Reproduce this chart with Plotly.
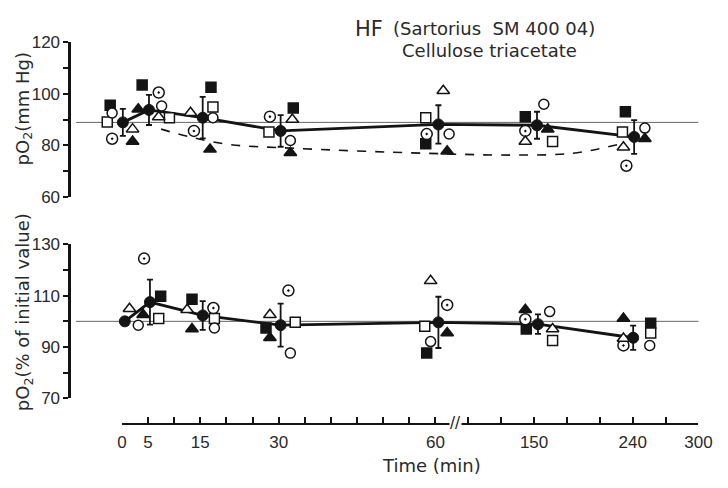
import plotly.graph_objects as go

# ---------------- data ----------------
times = [0, 5, 15, 30, 60, 150, 240]
axis_ticks = list(range(0, 61, 5)) + list(range(90, 301, 30))
labelled_ticks = [0, 5, 15, 30, 60, 150, 240, 300]

# upper panel: pO2 (mm Hg)
top_mean = [88.9, 93.7, 90.7, 85.6, 88.1, 87.8, 83.3]
top_err = [5.2, 5.8, 8.0, 6.1, 7.4, 5.2, 6.5]
top_filled_square = [95.5, 103.3, 102.4, 94.4, 80.7, 91.1, 93.0]
top_open_square = [89.0, 90.7, 94.8, 85.2, 90.7, 81.5, 85.2]
top_open_circle = [92.5, 95.2, 90.7, 81.9, 84.4, 95.9, 86.7]
top_dot_circle = [82.6, 100.4, 85.6, 91.1, 84.4, 85.6, 72.2]
top_open_triangle = [86.3, 91.0, 92.6, 90.0, 101.1, 81.5, 79.3]
top_filled_triangle = [81.5, 94.0, 78.5, 77.2, 77.8, 86.3, 82.6]
top_dashed_times = [7.5, 13, 20.5, 33, 58, 130, 185, 227]
top_dashed_values = [86.3, 83.3, 80.4, 78.9, 77.0, 76.3, 77.0, 80.4]
top_baseline = 88.9

# lower panel: pO2 (% of initial value)
bot_mean = [100.0, 107.5, 102.3, 98.5, 99.6, 98.9, 93.6]
bot_err = [0, 8.8, 5.6, 8.4, 10.0, 3.8, 4.7]
bot_filled_square = [None, 109.8, 108.6, 97.4, 87.6, 97.0, 99.3]
bot_open_square = [None, 101.1, 101.1, 99.6, 98.1, 92.5, 95.5]
bot_open_circle = [None, 98.5, 97.4, 87.6, 92.1, 103.8, 90.6]
bot_dot_circle = [None, 124.5, 105.2, 112.0, 106.4, 100.8, 90.6]
bot_open_triangle = [None, 104.9, 104.5, 102.6, 115.8, 97.0, 93.3]
bot_filled_triangle = [None, 102.6, 97.0, 93.6, 95.5, 104.5, 101.1]
bot_baseline = 100

# ---------------- styling (horizontal spreading of symbols, px) ----------------
top_off = {
    "filled_square": [-12, -6, 11, 15, -10, -9, -7.5],
    "open_square": [-15, 22, 13, -10, -10, 19, -10.5],
    "open_circle": [-10, 14, 13, 12, 14, 10, 12.5],
    "dot_circle": [-10, 11, -6.5, -9, -9, -9, -6.5],
    "open_triangle": [11, 11, -10, 14, 8, -9, -9.5],
    "filled_triangle": [11, -10, 10, 12, 12, 14, 12.5],
    "mean": [1, 1, 2.5, 2, 3, 3, 1.5],
}
bot_off = {
    "filled_square": [0, 13, -8.5, -13, -9, -8, 18.5],
    "open_square": [0, 11, 14.5, 17, -11, 19, 18.5],
    "open_circle": [0, -10, 14.5, 12, -5, 16, 17.5],
    "dot_circle": [0, -4, 13.5, 10, 12, -9, -9.5],
    "open_triangle": [0, -19, -13.5, -9, -5, 19, -9.5],
    "filled_triangle": [0, -5, -8.5, -9, 12, -9, -9.5],
    "mean": [3, 2, 2.5, 2, 3, 4, 0.5],
}

INK = "#141414"
TXT = "#2a2a2a"
styles = {
    "filled_square": ("square", INK, 10),
    "open_square": ("square", "white", 10),
    "open_circle": ("circle", "white", 10),
    "dot_circle": ("circle-dot", "white", 11),
    "open_triangle": ("triangle-up", "white", 11),
    "filled_triangle": ("triangle-up", INK, 11),
}

# broken time axis: linear 0-60 min, compressed 60-300 min
PX_PER_U = 5.367
RATIO = 0.2096
W, H = 728, 488


def u(t):
    return t if t <= 60 else 60 + (t - 60) * RATIO


def fx(p):
    return p / W


def fy(p):
    return 1 - p / H


def xs(ts, offs):
    return [u(t) + o / PX_PER_U for t, o in zip(ts, offs)]


fig = go.Figure()


def add_panel(xa, ya, vals, mean, err, offs, baseline):
    fig.add_trace(go.Scatter(x=[(73 - 120) / PX_PER_U, u(300)], y=[baseline, baseline],
                             mode="lines", line=dict(color="#666", width=1),
                             xaxis=xa, yaxis=ya, hoverinfo="skip"))
    fig.add_trace(go.Scatter(x=xs(times, offs["mean"]), y=mean, mode="lines",
                             line=dict(color=INK, width=2.8), xaxis=xa, yaxis=ya))
    for name, v in vals.items():
        sym, fill, size = styles[name]
        fig.add_trace(go.Scatter(
            x=xs(times, offs[name]), y=v, mode="markers",
            marker=dict(symbol=sym, color=fill, size=size,
                        line=dict(color=INK, width=1.5)),
            xaxis=xa, yaxis=ya))
    fig.add_trace(go.Scatter(
        x=xs(times, offs["mean"]), y=mean, mode="markers",
        marker=dict(symbol="circle", color=INK, size=11, line=dict(color=INK, width=1)),
        error_y=dict(type="data", array=err, visible=True, color=INK, thickness=1.8, width=3),
        xaxis=xa, yaxis=ya))


fig.add_trace(go.Scatter(x=[u(t) for t in top_dashed_times], y=top_dashed_values,
                         mode="lines", line=dict(color=INK, width=1.6, dash="dash", shape="spline"),
                         xaxis="x", yaxis="y"))

add_panel("x", "y", {
    "filled_square": top_filled_square, "open_square": top_open_square,
    "open_circle": top_open_circle, "dot_circle": top_dot_circle,
    "open_triangle": top_open_triangle, "filled_triangle": top_filled_triangle,
}, top_mean, top_err, top_off, top_baseline)

add_panel("x2", "y2", {
    "filled_square": bot_filled_square, "open_square": bot_open_square,
    "open_circle": bot_open_circle, "dot_circle": bot_dot_circle,
    "open_triangle": bot_open_triangle, "filled_triangle": bot_filled_triangle,
}, bot_mean, bot_err, bot_off, bot_baseline)

fig.add_trace(go.Scatter(x=[0], y=[-10], mode="markers", marker=dict(opacity=0),
                         xaxis="x3", yaxis="y3", hoverinfo="skip"))

x_range = [(68 - 120) / PX_PER_U, (715 - 120) / PX_PER_U]
hidden_x = dict(domain=[fx(68), fx(715)], range=x_range, visible=False)
tickfont = dict(family="Liberation Sans", size=17, color=TXT)


def yax(dom_top, dom_bot, lo, hi, labelled, anchor):
    vals = list(range(lo, hi + 1, 10))
    return dict(domain=[fy(dom_bot), fy(dom_top)], range=[lo, hi], anchor=anchor,
                showline=True, linecolor=INK, linewidth=2.5, ticks="outside",
                ticklen=5, tickwidth=2, tickcolor=INK, tickvals=vals,
                ticktext=[str(v) if v in labelled else "" for v in vals],
                tickfont=tickfont, showgrid=False, zeroline=False)


fig.update_layout(
    width=W, height=H, margin=dict(l=0, r=0, t=0, b=0, pad=0),
    paper_bgcolor="white", plot_bgcolor="white", showlegend=False,
    xaxis=dict(hidden_x, anchor="y"),
    xaxis2=dict(hidden_x, anchor="y2"),
    yaxis=yax(34, 196, 60, 120, [60, 80, 100, 120], "x"),
    yaxis2=yax(245, 405, 70, 130, [70, 90, 110, 130], "x2"),
    xaxis3=dict(domain=[fx(120), fx(712)], range=[0, u(300)], anchor="y3", side="bottom",
                showline=True, linecolor=INK, linewidth=2, ticks="inside",
                ticklen=6, tickwidth=2, tickcolor=INK,
                tickvals=[u(t) for t in axis_ticks],
                ticktext=[str(t) if t in labelled_ticks else "" for t in axis_ticks],
                tickfont=tickfont, ticklabelstandoff=2,
                showgrid=False, zeroline=False),
    yaxis3=dict(domain=[fy(431), fy(421)], range=[0, 1], anchor="x3",
                showline=False, showticklabels=False, ticks="", showgrid=False,
                zeroline=False),
)

tf = dict(family="DejaVu Sans", size=18, color=TXT)


def note(text, x, y, **kw):
    fig.add_annotation(text=text, x=fx(x), y=fy(y), xref="paper", yref="paper",
                       yanchor="middle", showarrow=False, **kw)


note("HF", 357, 21, xanchor="left", font=dict(family="DejaVu Sans", size=21, color=TXT))
note("(Sartorius  SM 400 04)", 396, 20, xanchor="left", font=tf)
note("Cellulose triacetate", 406, 43, xanchor="left", font=tf)
note("Time (min)", 438, 475, xanchor="center", font=tf)
note("pO<sub>2</sub>(mm Hg)", 19, 104, xanchor="center", textangle=-90, font=tf)
note("pO<sub>2</sub>(% of initial value)", 19, 316, xanchor="center", textangle=-90, font=tf)
fig.add_annotation(text="//", x=u(60) + 21 / PX_PER_U, y=fy(431), xref="x3", yref="paper",
                   xanchor="center", yanchor="middle", showarrow=False, bgcolor="white",
                   borderpad=0, font=dict(family="DejaVu Sans", size=15, color=INK))

fig.write_html("out.html")
